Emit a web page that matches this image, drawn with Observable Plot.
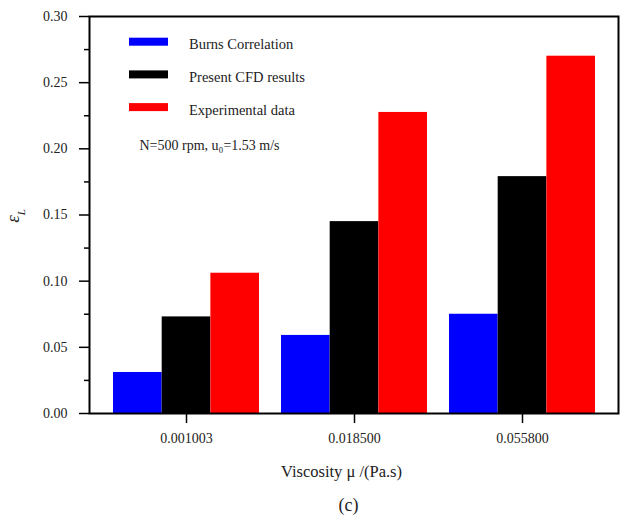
<!DOCTYPE html>
<html><head><meta charset="utf-8">
<script src="https://cdn.jsdelivr.net/npm/d3@7"></script>
<script src="https://cdn.jsdelivr.net/npm/@observablehq/plot@0.6"></script>
<style>body{margin:0;background:#fff} svg{display:block} #chart text{font-family:"Liberation Serif", serif;}</style>
</head><body><div id="chart"></div>
<script>
const groups = ["0.001003", "0.018500", "0.055800"];
const series = ["Burns Correlation", "Present CFD results", "Experimental data"];
const colors = ["#0000ff", "#000000", "#ff0000"];
const burns = [0.031, 0.059, 0.075];
const cfd = [0.073, 0.145, 0.179];
const experimental = [0.106, 0.2275, 0.270];
const yMajorTicks = [0, 0.05, 0.10, 0.15, 0.20, 0.25, 0.30];
const yMinorTicks = [0.025, 0.075, 0.125, 0.175, 0.225, 0.275];
const annotation = "N=500 rpm, u₀=1.53 m/s";
const xLabel = "Viscosity μ /(Pa.s)";
const yLabelMain = "ε";
const yLabelSub = "L";
const caption = "(c)";

const values = [burns, cfd, experimental];
const data = series.flatMap((s, i) => groups.map((g, j) => ({group: g, series: s, si: i, value: values[i][j]})));

const W = 620, H = 517, mL = 89, mR = 2, mT = 16, mB = 104;
const fontFam = "'Liberation Serif', serif";
const pin = 0.133;
const xRange = [112.7, 595.7];
const bw = (xRange[1] - xRange[0]) / (groups.length - pin) * (1 - pin);
const third = bw / 3;

const marks = [];
series.forEach((s, i) => {
  marks.push(Plot.barY(data.filter(d => d.si === i), {
    x: "group", y: "value", fill: colors[i],
    insetLeft: i * third, insetRight: (2 - i) * third
  }));
});
marks.push(
  Plot.axisY({ticks: yMinorTicks, tickSize: 5, tickFormat: () => "", strokeWidth: 1.5, label: null}),
  Plot.axisY({ticks: yMajorTicks, tickSize: 10, tickPadding: 12, tickFormat: d3.format(".2f"), strokeWidth: 1.5, fontSize: 14, fill: "#222", label: null}),
  Plot.axisX({tickSize: 10, tickPadding: 10, strokeWidth: 1.5, fontSize: 14, fill: "#222", label: null}),
  Plot.frame({stroke: "black", strokeWidth: 2}),
  Plot.text([xLabel], {frameAnchor: "bottom", dx: -12.5, dy: 58, fontSize: 16.5, fill: "#222", lineAnchor: "middle"}),
  Plot.text([caption], {frameAnchor: "bottom", dx: -5.5, dy: 92, fontSize: 18, fill: "#222", lineAnchor: "middle"}),
  Plot.text([annotation], {frameAnchor: "top-left", dx: 50, dy: 129, fontSize: 14, fill: "#222", textAnchor: "start", lineAnchor: "middle"})
);

const chart = Plot.plot({
  width: W, height: H,
  marginLeft: mL, marginRight: mR, marginTop: mT, marginBottom: mB,
  style: {fontFamily: fontFam, background: "#fff"},
  x: {domain: groups, range: xRange, paddingInner: pin, paddingOuter: 0},
  y: {domain: [0, 0.3]},
  marks
});

const svg = d3.select(chart);
// Legend
const leg = svg.append("g").attr("font-size", 14.5).attr("fill", "#222").attr("text-anchor", "start");
series.forEach((s, i) => {
  const cy = 41.7 + i * 32.7;
  leg.append("rect").attr("x", 129).attr("y", cy - 4).attr("width", 39).attr("height", 8).attr("fill", colors[i]);
  leg.append("text").attr("x", 189).attr("y", cy + 2.5).attr("dy", "0.35em").attr("text-anchor", "start").text(s);
});
// Y label with subscript
const yl = svg.append("text")
  .attr("transform", `translate(19,216) rotate(-90)`)
  .attr("text-anchor", "middle")
  .attr("font-size", 19).attr("fill", "#222");
yl.append("tspan").attr("font-style", "italic").text(yLabelMain);
yl.append("tspan").attr("font-style", "italic").attr("font-size", 11).attr("dy", 6).text(yLabelSub);

document.getElementById("chart").appendChild(chart);
</script>
</body></html>
